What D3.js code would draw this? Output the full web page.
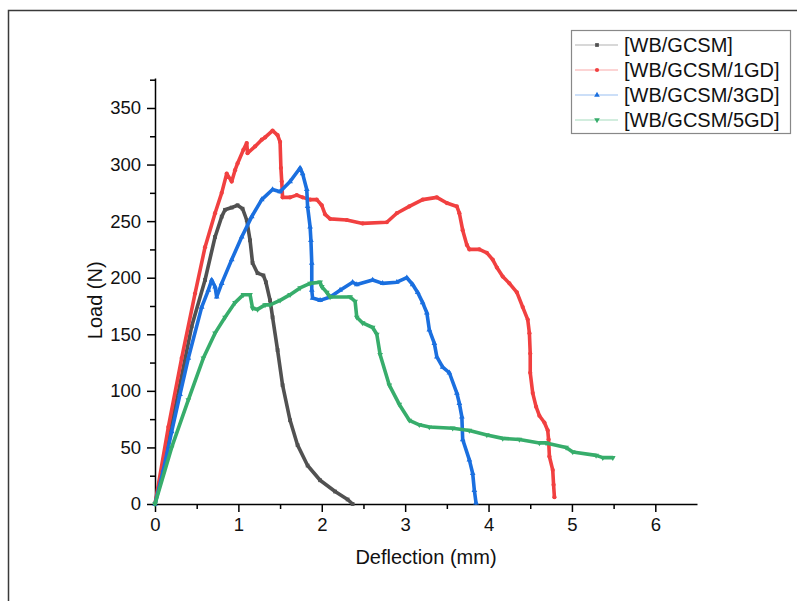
<!DOCTYPE html>
<html>
<head>
<meta charset="utf-8">
<script src="https://cdn.jsdelivr.net/npm/d3@7"></script>
<style>
  body { margin: 0; background: #fff; }
  svg { display: block; font-family: "Liberation Sans", Arial, sans-serif; }
</style>
</head>
<body>
<div id="chart"></div>
<script>
// series: [deflection (mm), load (N)]
let wbGcsm = [
    [0, 0], [0.2, 70], [0.44, 157], [0.60, 198], [0.72, 236], [0.80, 254],
    [0.84, 260], [0.92, 262], [0.99, 264], [1.05, 261], [1.10, 251], [1.14, 233],
    [1.17, 213], [1.23, 204], [1.30, 202], [1.33, 196], [1.38, 180], [1.41, 165],
    [1.47, 136], [1.53, 105], [1.62, 74], [1.71, 52], [1.83, 34], [1.98, 21],
    [2.16, 11], [2.31, 4], [2.37, 0]
];
let wbGcsm1gd = [
    [0, 0], [0.16, 68], [0.32, 129], [0.48, 186], [0.60, 227], [0.72, 257],
    [0.80, 275], [0.86, 292], [0.92, 285], [0.96, 295], [0.99, 301], [1.06, 313],
    [1.10, 319], [1.11, 310], [1.20, 316], [1.28, 322], [1.32, 324], [1.41, 330],
    [1.47, 326], [1.50, 320], [1.51, 297], [1.52, 285], [1.53, 271], [1.62, 271],
    [1.70, 273], [1.77, 271], [1.86, 269], [1.94, 269], [2.0, 264], [2.04, 256],
    [2.10, 252], [2.30, 251], [2.49, 248], [2.78, 249], [2.90, 257], [3.05, 263],
    [3.21, 269], [3.38, 271], [3.50, 266], [3.62, 263], [3.65, 257], [3.69, 242],
    [3.74, 229], [3.77, 225], [3.89, 225], [3.98, 222], [4.05, 216], [4.10, 209],
    [4.17, 201], [4.25, 195], [4.34, 187], [4.41, 174], [4.47, 163], [4.49, 151],
    [4.50, 133], [4.50, 116], [4.53, 98], [4.57, 86], [4.61, 78], [4.67, 72],
    [4.71, 65], [4.72, 57], [4.73, 42], [4.77, 30], [4.78, 17], [4.79, 6]
];
let wbGcsm3gd = [
    [0, 0], [0.1, 30], [0.2, 64], [0.3, 97], [0.40, 129], [0.56, 174], [0.64, 189],
    [0.68, 198], [0.72, 192], [0.74, 183], [0.80, 195], [0.92, 216], [1.04, 236],
    [1.16, 254], [1.28, 269], [1.41, 278], [1.50, 276], [1.62, 285], [1.74, 297],
    [1.77, 292], [1.82, 278], [1.83, 263], [1.86, 245], [1.87, 233], [1.88, 213],
    [1.88, 189], [1.89, 182], [1.98, 180], [2.10, 183], [2.22, 189], [2.37, 196],
    [2.42, 194], [2.61, 198], [2.73, 195], [2.90, 196], [3.02, 200], [3.09, 194],
    [3.15, 187], [3.21, 178], [3.26, 169], [3.29, 154], [3.35, 142], [3.38, 130],
    [3.45, 121], [3.53, 116], [3.62, 98], [3.65, 89], [3.68, 77], [3.69, 57],
    [3.77, 39], [3.81, 27], [3.83, 12], [3.85, 1]
];
let wbGcsm5gd = [
    [0, 0], [0.2, 50], [0.40, 92], [0.58, 129], [0.72, 151], [0.84, 165],
    [0.96, 178], [1.06, 185], [1.14, 185], [1.17, 173], [1.23, 172], [1.32, 176],
    [1.38, 176], [1.50, 180], [1.62, 185], [1.74, 191], [1.86, 195], [1.98, 196],
    [2.00, 192], [2.06, 187], [2.10, 183], [2.34, 183], [2.40, 179], [2.42, 165],
    [2.49, 160], [2.61, 156], [2.66, 150], [2.70, 132], [2.81, 105], [2.93, 88],
    [3.05, 74], [3.17, 70], [3.29, 68], [3.57, 67], [3.77, 65], [3.98, 61],
    [4.17, 58], [4.37, 57], [4.61, 54], [4.69, 54], [4.93, 50], [5.01, 46],
    [5.29, 43], [5.37, 41], [5.49, 41]
];

let seriesNames = ['[WB/GCSM]', '[WB/GCSM/1GD]', '[WB/GCSM/3GD]', '[WB/GCSM/5GD]'];
let seriesData = [wbGcsm, wbGcsm1gd, wbGcsm3gd, wbGcsm5gd];
let seriesColors = ['#515151', '#F14040', '#1A6FDF', '#37AD6B'];
let seriesSymbols = [d3.symbolSquare, d3.symbolCircle, d3.symbolTriangle, d3.symbolTriangle];

let xTicks = [0, 1, 2, 3, 4, 5, 6];
let yTicks = [0, 50, 100, 150, 200, 250, 300, 350];

let margin = { "top": 78, "bottom": 97, "right": 100, "left": 155 };
let outerWidth = 797, outerHeight = 601;
let width = outerWidth - margin.left - margin.right;
let height = outerHeight - margin.top - margin.bottom;

let svg = d3.select('#chart')
    .append('svg')
    .attr('width', outerWidth)
    .attr('height', outerHeight);

// frame round the figure
svg.append('rect')
    .attr('x', 8.5).attr('y', 10.5)
    .attr('width', 820).attr('height', 620)
    .attr('fill', 'none')
    .attr('stroke', '#3a3a3a')
    .attr('stroke-width', 1.5);

let xScale = d3.scaleLinear().domain([0, 6.5]).range([0, width]);
let yScale = d3.scaleLinear().domain([0, 376.5]).range([height, 0]);

let g = svg.append('g')
    .attr('transform', 'translate(' + margin.left + ',' + margin.top + ')');

// minor ticks
let xMinor = d3.range(0.5, 6.5, 1);
let yMinor = d3.range(25, 376, 50);
g.append('g')
    .attr('transform', 'translate(0,' + height + ')')
    .call(d3.axisBottom(xScale).tickValues(xMinor).tickSize(5).tickFormat(''))
    .call(a => a.select('.domain').remove())
    .selectAll('line').attr('stroke', '#000').attr('stroke-width', 1.5);
g.append('g')
    .call(d3.axisLeft(yScale).tickValues(yMinor).tickSize(5).tickFormat(''))
    .call(a => a.select('.domain').remove())
    .selectAll('line').attr('stroke', '#000').attr('stroke-width', 1.5);

// major axes
let xAxis = g.append('g')
    .attr('transform', 'translate(0,' + height + ')')
    .call(d3.axisBottom(xScale).tickValues(xTicks).tickFormat(d3.format('d'))
        .tickSize(8).tickPadding(6).tickSizeOuter(0));
let yAxis = g.append('g')
    .call(d3.axisLeft(yScale).tickValues(yTicks).tickFormat(d3.format('d'))
        .tickSize(8).tickPadding(6).tickSizeOuter(0));

[xAxis, yAxis].forEach(function (a) {
    a.select('.domain').attr('stroke', '#000').attr('stroke-width', 1.5);
    a.selectAll('.tick line').attr('stroke', '#000').attr('stroke-width', 1.5);
    a.selectAll('.tick text')
        .attr('fill', '#111')
        .style('font-size', '18.5px')
        .style('font-family', '"Liberation Sans", Arial, sans-serif');
});

// axis titles
g.append('text')
    .attr('x', width / 2)
    .attr('y', height + 60)
    .attr('text-anchor', 'middle')
    .style('font-size', '20px')
    .attr('fill', '#111')
    .text('Deflection (mm)');
g.append('text')
    .attr('transform', 'translate(' + (-53) + ',' + (yScale(180)) + ') rotate(-90)')
    .attr('text-anchor', 'middle')
    .style('font-size', '20px')
    .attr('fill', '#111')
    .text('Load (N)');

// curves
let line = d3.line()
    .x(function (d) { return xScale(d[0]); })
    .y(function (d) { return yScale(d[1]); });

seriesData.forEach(function (data, i) {
    let s = g.append('g').attr('class', 'series');
    s.append('path')
        .attr('d', line(data))
        .attr('fill', 'none')
        .attr('stroke', seriesColors[i])
        .attr('stroke-width', 3.6)
        .attr('stroke-linejoin', 'round')
        .attr('stroke-linecap', 'round');
    s.selectAll('path.mk')
        .data(data)
        .enter()
        .append('path')
        .attr('class', 'mk')
        .attr('d', d3.symbol().type(seriesSymbols[i]).size(14))
        .attr('transform', function (d) {
            return 'translate(' + xScale(d[0]) + ',' + yScale(d[1]) + ')' + (i === 3 ? ' rotate(180)' : '');
        })
        .attr('fill', seriesColors[i]);
});

// legend
let legend = svg.append('g').attr('transform', 'translate(571,30)');
legend.append('rect')
    .attr('x', 0.5).attr('y', 0.5)
    .attr('width', 219).attr('height', 103)
    .attr('fill', '#fff')
    .attr('stroke', '#888')
    .attr('stroke-width', 1.2);
seriesNames.forEach(function (name, i) {
    let row = legend.append('g').attr('transform', 'translate(0,' + (15 + i * 25) + ')');
    row.append('line')
        .attr('x1', 4).attr('x2', 47)
        .attr('stroke', seriesColors[i])
        .attr('stroke-opacity', 0.45)
        .attr('stroke-width', 1.2);
    row.append('path')
        .attr('d', d3.symbol().type(seriesSymbols[i]).size(14))
        .attr('transform', 'translate(26,0)' + (i === 3 ? ' rotate(180)' : ''))
        .attr('fill', seriesColors[i]);
    row.append('text')
        .attr('x', 53)
        .attr('y', 7)
        .style('font-size', '20px')
        .attr('fill', '#111')
        .text(name);
});
</script>
</body>
</html>
